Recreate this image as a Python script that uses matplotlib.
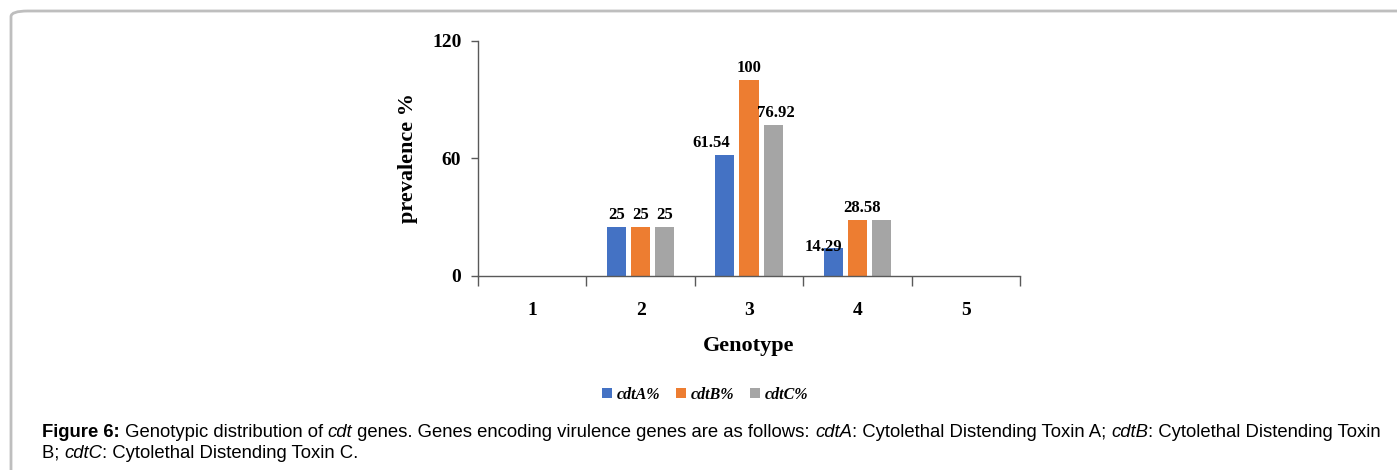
import numpy as np
import matplotlib
matplotlib.use('Agg')
import matplotlib.pyplot as plt
from matplotlib.patches import FancyBboxPatch

# data
genotypes = ['1', '2', '3', '4', '5']
cdtA = [0, 25, 61.54, 14.29, 0]
cdtB = [0, 25, 100, 28.58, 0]
cdtC = [0, 25, 76.92, 28.58, 0]
series_names = ['cdtA%', 'cdtB%', 'cdtC%']
clrs = ['#4472C4', '#ED7D31', '#A5A5A5']

# which bars carry a value label, and a small x nudge (points) for each
labels_A = ['', '25', '61.54', '14.29', '']
labels_B = ['', '25', '100', '28.58', '']
labels_C = ['', '25', '76.92', '', '']
nudge_A = [0, 0, -10, -7, 0]
nudge_B = [0, 0, 0, 3, 0]
nudge_C = [0, 0, 2, 0, 0]
lift_A = [0, 0, 0, -8, 0]

serif = 'Liberation Serif'
sans = 'Liberation Sans'

fig = plt.figure(figsize=(13.97, 4.70), dpi=100)

# rounded grey frame around the figure panel
frame = FancyBboxPatch((11 / 1397, -0.2), 1.2, 1.2 - 11 / 470,
                       boxstyle='round,pad=0,rounding_size=0.012',
                       transform=fig.transFigure, fill=False,
                       edgecolor='#BEBEBE', linewidth=2, clip_on=False)
fig.patches.append(frame)

ax = fig.add_axes([478 / 1397, 1 - 276 / 470, 542 / 1397, (276 - 40.7) / 470])

x = np.arange(len(genotypes))
width = 0.176
step = 0.222
series = [cdtA, cdtB, cdtC]
all_labels = [labels_A, labels_B, labels_C]
all_nudge = [nudge_A, nudge_B, nudge_C]
for i, (vals, c, name) in enumerate(zip(series, clrs, series_names)):
    bars = ax.bar(x + (i - 1) * step, vals, width, color=c, label=name, zorder=2)
    for j, b in enumerate(bars):
        txt = all_labels[i][j]
        if not txt:
            continue
        dy = 3 + (lift_A[j] if i == 0 else 0)
        ax.annotate(txt, (b.get_x() + b.get_width() / 2, b.get_height()),
                    xytext=(all_nudge[i][j], dy), textcoords='offset points',
                    ha='center', va='bottom', fontsize=12, fontweight='bold',
                    family=serif)

ax.set_xlim(-0.5, len(genotypes) - 0.5)
ax.set_ylim(0, 120)
ax.set_yticks([0, 60, 120])
ax.set_yticklabels(['0', '60', '120'], family=serif, fontweight='bold', fontsize=14)

# category boundaries get the ticks, names sit in between
ax.set_xticks(np.arange(-0.5, len(genotypes), 1.0))
ax.set_xticklabels([])
ax.set_xticks(x, minor=True)
ax.set_xticklabels(genotypes, minor=True, family=serif, fontweight='bold', fontsize=14)
ax.tick_params(axis='x', which='major', direction='out', length=7, width=1, color='#595959')
ax.tick_params(axis='x', which='minor', length=0, pad=19)
ax.tick_params(axis='y', direction='out', length=5, width=1, color='#595959', pad=7)

for s in ['top', 'right']:
    ax.spines[s].set_visible(False)
for s in ['left', 'bottom']:
    ax.spines[s].set_color('#595959')
    ax.spines[s].set_linewidth(1)

ax.set_ylabel('prevalence %', family=serif, fontweight='bold', fontsize=16, labelpad=10)
ax.set_xlabel('Genotype', family=serif, fontweight='bold', fontsize=16, labelpad=12)

leg = ax.legend(loc='center', bbox_to_anchor=(705 / 1397, 1 - 395 / 470),
                bbox_transform=fig.transFigure, ncol=3, frameon=False,
                handlelength=0.6, handleheight=0.6, handletextpad=0.3,
                columnspacing=1.0,
                prop={'family': serif, 'weight': 'bold', 'style': 'italic', 'size': 11.5})

# caption, built piece by piece so bold / italic runs follow each other
cap1 = [('Figure 6:', 'bold', 'normal'),
        (' Genotypic distribution of ', 'normal', 'normal'),
        ('cdt', 'normal', 'italic'),
        (' genes. Genes encoding virulence genes are as follows: ', 'normal', 'normal'),
        ('cdtA', 'normal', 'italic'),
        (': Cytolethal Distending Toxin A; ', 'normal', 'normal'),
        ('cdtB', 'normal', 'italic'),
        (': Cytolethal Distending Toxin', 'normal', 'normal')]
cap2 = [('B; ', 'normal', 'normal'),
        ('cdtC', 'normal', 'italic'),
        (': Cytolethal Distending Toxin C.', 'normal', 'normal')]
cap_size = 13.35


def write_line(pieces, x0, y0):
    last = None
    for s, w, st in pieces:
        if last is None:
            last = fig.text(x0, y0, s, fontsize=cap_size, family=sans, fontweight=w,
                            style=st, ha='left', va='bottom')
        else:
            last = fig.add_artist(plt.Annotation(s, xy=(1, 0), xycoords=last,
                                                 fontsize=cap_size, family=sans,
                                                 fontweight=w, style=st,
                                                 ha='left', va='bottom'))


write_line(cap1, 42 / 1397, 1 - 441 / 470)
write_line(cap2, 42 / 1397, 1 - 462 / 470)

fig.savefig('out.png', dpi=100)
